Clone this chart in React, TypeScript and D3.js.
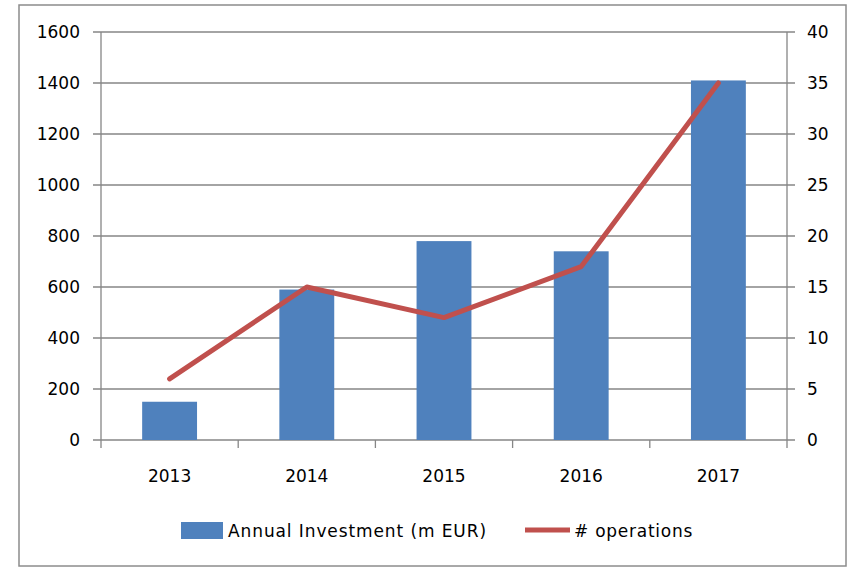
import React from "react";
import * as d3 from "d3";

const years = ["2013", "2014", "2015", "2016", "2017"];
const investment = [150, 590, 780, 740, 1410];
const operations = [6, 15, 12, 17, 35];
const leftTicks = [0, 200, 400, 600, 800, 1000, 1200, 1400, 1600];
const rightTicks = [0, 5, 10, 15, 20, 25, 30, 35, 40];

const W = 848, H = 569;
const M = { left: 101, right: 787, top: 32, bottom: 440 };
const FONT = "'DejaVu Sans', Verdana, sans-serif";
const GRID = "#868686";

export default function App() {
  const x = d3.scaleBand<string>().domain(years).range([M.left, M.right]).paddingInner(0.6).paddingOuter(0.3);
  const xc = d3.scaleBand<string>().domain(years).range([M.left, M.right]);
  const yL = d3.scaleLinear().domain([0, 1600]).range([M.bottom, M.top]);
  const yR = d3.scaleLinear().domain([0, 40]).range([M.bottom, M.top]);
  const line = d3.line<number>()
    .x((_, i) => (xc(years[i]) as number) + xc.bandwidth() / 2)
    .y((d) => yR(d));
  const boundaries = years.map((y) => xc(y) as number).concat([M.right]);

  return (
    <svg width={W} height={H} style={{ position: "absolute", left: 0, top: 0, fontFamily: FONT }}>
      <rect x={19} y={5} width={827} height={561} fill="#fff" stroke="#8c8c8c" strokeWidth={1.5} />
      {leftTicks.map((t) => (
        <g key={"l" + t}>
          <line x1={M.left - 8} x2={M.right + 8} y1={yL(t)} y2={yL(t)} stroke={GRID} strokeWidth={1.3} />
          <text x={80} y={yL(t) + 6} textAnchor="end" fontSize={17} fill="#000">{t}</text>
        </g>
      ))}
      {rightTicks.map((t) => (
        <text key={"r" + t} x={807} y={yR(t) + 6} textAnchor="start" fontSize={17} fill="#000">{t}</text>
      ))}
      <line x1={M.left} x2={M.left} y1={M.top} y2={M.bottom} stroke={GRID} strokeWidth={1.3} />
      <line x1={M.right} x2={M.right} y1={M.top} y2={M.bottom} stroke={GRID} strokeWidth={1.3} />
      {boundaries.map((b, i) => (
        <line key={"b" + i} x1={b} x2={b} y1={M.bottom} y2={M.bottom + 8} stroke={GRID} strokeWidth={1.3} />
      ))}
      {years.map((y, i) => (
        <rect key={y} x={x(y)} y={yL(investment[i])} width={x.bandwidth()} height={M.bottom - yL(investment[i])} fill="#4F81BD" />
      ))}
      <path d={line(operations) || ""} fill="none" stroke="#C0504D" strokeWidth={5} strokeLinejoin="round" strokeLinecap="round" />
      {years.map((y) => (
        <text key={"x" + y} x={(xc(y) as number) + xc.bandwidth() / 2} y={482} textAnchor="middle" fontSize={17} fill="#000">{y}</text>
      ))}
      <rect x={181} y={522} width={42} height={17} fill="#4F81BD" />
      <text x={228} y={537} fontSize={17} letterSpacing={0.9} fill="#000">Annual Investment (m EUR)</text>
      <line x1={525} x2={570} y1={530} y2={530} stroke="#C0504D" strokeWidth={5} />
      <text x={574} y={537} fontSize={17} letterSpacing={0.75} fill="#000"># operations</text>
    </svg>
  );
}
